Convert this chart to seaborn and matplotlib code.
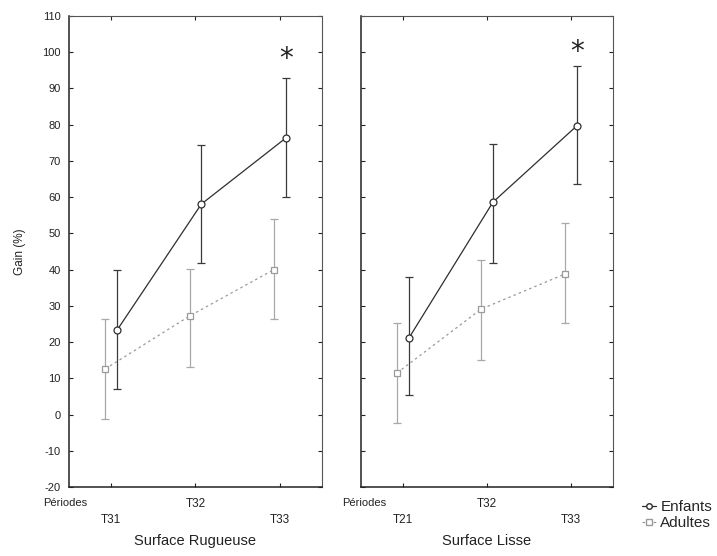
import numpy as np
import pandas as pd
import matplotlib
matplotlib.use("Agg")
import matplotlib.pyplot as plt
import seaborn as sns
from matplotlib.lines import Line2D

# --- data ---
periodes_rug = ["T31", "T32", "T33"]
periodes_lis = ["T21", "T32", "T33"]

enfants_rug = [23.3, 58.1, 76.3]
enfants_rug_bas = [7.0, 41.8, 60.0]
enfants_rug_haut = [39.9, 74.4, 92.9]
adultes_rug = [12.6, 27.2, 40.0]
adultes_rug_bas = [-1.2, 13.1, 26.3]
adultes_rug_haut = [26.3, 40.2, 53.9]

enfants_lis = [21.1, 58.6, 79.7]
enfants_lis_bas = [5.4, 41.8, 63.6]
enfants_lis_haut = [38.0, 74.7, 96.2]
adultes_lis = [11.5, 29.1, 38.8]
adultes_lis_bas = [-2.3, 15.0, 25.3]
adultes_lis_haut = [25.3, 42.7, 52.9]

etoile_rug = 98
etoile_lis = 100


def build_frame():
    rows = []
    series = {
        ("Surface Rugueuse", "Enfants"): (enfants_rug, enfants_rug_bas, enfants_rug_haut),
        ("Surface Rugueuse", "Adultes"): (adultes_rug, adultes_rug_bas, adultes_rug_haut),
        ("Surface Lisse", "Enfants"): (enfants_lis, enfants_lis_bas, enfants_lis_haut),
        ("Surface Lisse", "Adultes"): (adultes_lis, adultes_lis_bas, adultes_lis_haut),
    }
    for (surface, groupe), (moy, bas, haut) in series.items():
        for i in range(3):
            rows.append(dict(surface=surface, groupe=groupe, idx=i,
                             gain=moy[i], bas=bas[i], haut=haut[i]))
    return pd.DataFrame(rows)


sns.set_theme(style="ticks")
plt.rcParams["font.family"] = ["Liberation Sans", "DejaVu Sans"]
plt.rcParams["axes.unicode_minus"] = False

df = build_frame()
dodge = {"Enfants": 0.07, "Adultes": -0.07}
df["pos"] = df["idx"] + df["groupe"].map(dodge)

styles = {
    "Enfants": dict(color="#2e2e2e", marker="o", ls="-", ecolor="#3a3a3a"),
    "Adultes": dict(color="#9a9a9a", marker="s", ls=(0, (2, 2.5)), ecolor="#a8a8a8"),
}

fig = plt.figure(figsize=(7.17, 5.56), dpi=100)
ax1 = fig.add_axes([69 / 717, 1 - 487 / 556, 253 / 717, 471 / 556])
ax2 = fig.add_axes([361 / 717, 1 - 487 / 556, 252 / 717, 471 / 556])

panels = [
    (ax1, "Surface Rugueuse", periodes_rug, etoile_rug),
    (ax2, "Surface Lisse", periodes_lis, etoile_lis),
]

for ax, surface, labels, etoile in panels:
    sub = df[df["surface"] == surface]
    for groupe in ["Adultes", "Enfants"]:
        g = sub[sub["groupe"] == groupe]
        st = styles[groupe]
        ax.errorbar(g["pos"], g["gain"], yerr=[g["gain"] - g["bas"], g["haut"] - g["gain"]],
                    fmt="none", ecolor=st["ecolor"], elinewidth=0.9, capsize=3,
                    capthick=0.9, zorder=1)
        sns.lineplot(data=g, x="pos", y="gain", ax=ax, color=st["color"],
                     marker=st["marker"], linestyle=st["ls"], linewidth=0.9,
                     markersize=5, markerfacecolor="white",
                     markeredgecolor=st["color"], markeredgewidth=0.9,
                     sort=False, errorbar=None, legend=False, zorder=3)
    ax.text(2 + dodge["Enfants"], etoile, "*", ha="center", va="center",
            fontsize=20, color="#222222", family="DejaVu Sans")

    ax.set_xlim(-0.5, 2.5)
    ax.set_ylim(-20, 110)
    ax.set_yticks(np.arange(-20, 111, 10))
    ax.set_xticks([0, 1, 2])
    ax.set_xticklabels(["\n" + labels[0], labels[1], "\n" + labels[2]],
                       linespacing=1.4)
    ax.tick_params(direction="in", top=True, right=True, length=3, width=0.8,
                   labelsize=8, colors="#222222", pad=6)
    ax.tick_params(axis="x", pad=8, labelsize=8.5)
    ax.set_xlabel(surface, fontsize=10.5, color="#222222", labelpad=6)
    ax.set_ylabel("")
    for side in ["top", "right"]:
        ax.spines[side].set_linewidth(0.8)
        ax.spines[side].set_color("#555555")
    for side in ["left", "bottom"]:
        ax.spines[side].set_linewidth(1.1)
        ax.spines[side].set_color("#222222")

ax2.tick_params(labelleft=False)
ax1.set_ylabel("Gain (%)", fontsize=8.5, color="#222222", labelpad=12)

fig.text(43 / 717, 1 - 503 / 556, "Périodes", fontsize=8, color="#222222",
         ha="left", va="center")
fig.text(342 / 717, 1 - 503 / 556, "Périodes", fontsize=8, color="#222222",
         ha="left", va="center")

handles = [
    Line2D([], [], color=styles[g]["color"], marker=styles[g]["marker"],
           linestyle=styles[g]["ls"], linewidth=0.9, markersize=4,
           markerfacecolor="white", markeredgecolor=styles[g]["color"])
    for g in ["Enfants", "Adultes"]
]
fig.legend(handles, ["Enfants", "Adultes"], loc="center left",
           bbox_to_anchor=(642 / 717, 1 - 515 / 556), frameon=False,
           fontsize=11, handlelength=0.9, handletextpad=0.3, labelspacing=0.15,
           borderpad=0, borderaxespad=0)

fig.savefig("out.png", dpi=100)
plt.close(fig)
